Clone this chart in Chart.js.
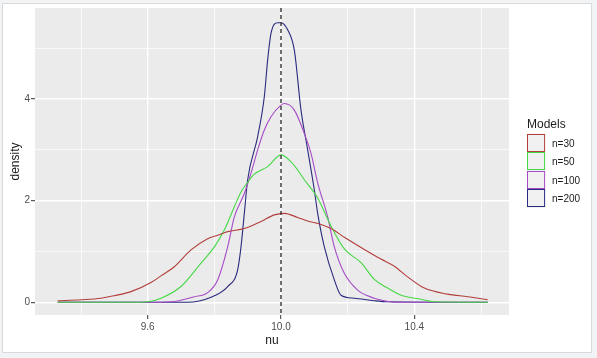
<!DOCTYPE html>
<html>
<head>
<meta charset="utf-8">
<script src="https://cdn.jsdelivr.net/npm/chart.js@4"></script>
<style>
  html, body { margin: 0; padding: 0; background: #f2f3f5; }
  #frame {
    position: absolute; left: 2px; top: 3px; width: 588px; height: 348px;
    background: #fff; border: 1px solid #d8d9db;
  }
  #wrap { position: absolute; left: 0; top: 0; width: 597px; height: 358px; }
</style>
</head>
<body>
<div id="frame"></div>
<div id="wrap"><canvas id="myChart" width="597" height="358"></canvas></div>
<script>
// ============================================
// Data
// ============================================

const seriesLabels = ['n=30', 'n=50', 'n=100', 'n=200'];
const seriesColors = ['#b23f3c', '#45d845', '#a54bc6', '#2a2a7e'];

const nu30 = [9.33, 9.40, 9.46, 9.50, 9.55, 9.61, 9.64, 9.68, 9.73, 9.78, 9.81, 9.84, 9.89, 9.94, 9.98, 10.01, 10.05, 10.08, 10.12, 10.15, 10.19, 10.25, 10.30, 10.34, 10.38, 10.43, 10.50, 10.56, 10.62];
const dens30 = [0.03, 0.05, 0.08, 0.13, 0.21, 0.39, 0.52, 0.70, 1.03, 1.25, 1.32, 1.39, 1.45, 1.59, 1.72, 1.75, 1.67, 1.60, 1.53, 1.45, 1.28, 1.04, 0.85, 0.71, 0.50, 0.28, 0.16, 0.11, 0.05];

const nu50 = [9.33, 9.55, 9.60, 9.64, 9.70, 9.76, 9.80, 9.83, 9.86, 9.88, 9.90, 9.92, 9.96, 10.00, 10.04, 10.07, 10.11, 10.15, 10.19, 10.24, 10.28, 10.32, 10.36, 10.42, 10.46, 10.62];
const dens50 = [0.00, 0.00, 0.01, 0.08, 0.31, 0.77, 1.09, 1.42, 1.88, 2.17, 2.36, 2.52, 2.67, 2.90, 2.69, 2.41, 2.05, 1.50, 1.05, 0.78, 0.45, 0.28, 0.14, 0.06, 0.01, 0.00];

const nu100 = [9.33, 9.60, 9.67, 9.74, 9.78, 9.81, 9.84, 9.86, 9.89, 9.91, 9.93, 9.95, 9.97, 10.00, 10.01, 10.04, 10.07, 10.09, 10.11, 10.14, 10.16, 10.19, 10.23, 10.28, 10.31, 10.35, 10.62];
const dens100 = [0.00, 0.00, 0.01, 0.11, 0.19, 0.44, 1.09, 1.68, 2.14, 2.54, 3.00, 3.39, 3.65, 3.88, 3.91, 3.78, 3.32, 2.93, 2.35, 1.68, 1.09, 0.57, 0.24, 0.08, 0.03, 0.00, 0.00];

const nu200 = [9.33, 9.72, 9.79, 9.84, 9.87, 9.88, 9.89, 9.90, 9.93, 9.95, 9.96, 9.97, 9.99, 10.00, 10.02, 10.04, 10.06, 10.08, 10.10, 10.11, 10.13, 10.16, 10.18, 10.22, 10.28, 10.32, 10.62];
const dens200 = [0.00, 0.00, 0.10, 0.31, 0.64, 1.09, 1.75, 2.41, 3.26, 4.05, 4.77, 5.29, 5.50, 5.50, 5.36, 4.96, 3.78, 3.00, 2.21, 1.75, 1.09, 0.44, 0.14, 0.08, 0.03, 0.01, 0.00];

const REF_NU = 10.0; // dashed reference line

const X_MIN = 9.262, X_MAX = 10.684;
const Y_MIN = -0.25, Y_MAX = 5.79;

// ============================================
// Helpers
// ============================================

function toPoints(xs, ys) {
  return xs.map((x, i) => ({ x: x, y: ys[i] }));
}

const allNu = [nu30, nu50, nu100, nu200];
const allDens = [dens30, dens50, dens100, dens200];

const datasets = seriesLabels.map((label, i) => ({
  label: label,
  data: toPoints(allNu[i], allDens[i]),
  borderColor: seriesColors[i],
  backgroundColor: seriesColors[i],
  borderWidth: 1.1,
  pointRadius: 0,
  fill: false,
  cubicInterpolationMode: 'monotone'
}));

const isMajorX = v => Math.round(v * 10) % 4 === 0;
const isMajorY = v => Math.round(v) % 2 === 0;

// ============================================
// Plugins: panel background, reference line, legend
// ============================================

const panelPlugin = {
  id: 'panel',
  beforeDraw(chart) {
    const { ctx, chartArea: a } = chart;
    ctx.save();
    ctx.fillStyle = '#ebebeb';
    ctx.fillRect(a.left, a.top, a.right - a.left, a.bottom - a.top);
    ctx.restore();
  },
  afterDatasetsDraw(chart) {
    const { ctx, chartArea: a } = chart;
    const x = chart.scales.x.getPixelForValue(REF_NU);
    ctx.save();
    ctx.strokeStyle = '#333333';
    ctx.lineWidth = 1.4;
    ctx.setLineDash([4, 3]);
    ctx.beginPath();
    ctx.moveTo(x, a.top);
    ctx.lineTo(x, a.bottom);
    ctx.stroke();
    ctx.restore();
  }
};

const legendPlugin = {
  id: 'ggLegend',
  afterDraw(chart) {
    const { ctx } = chart;
    const left = 527, top = 133.5, key = 18.6;
    const items = chart.data.datasets;
    ctx.save();
    ctx.fillStyle = '#1a1a1a';
    ctx.font = '12px "Liberation Sans", Arial, sans-serif';
    ctx.textBaseline = 'alphabetic';
    ctx.fillText('Models', left, 128);

    // key backgrounds first, then the coloured outlines
    ctx.fillStyle = '#f0f0f0';
    items.forEach((ds, i) => ctx.fillRect(left, top + i * key, key - 0.5, key));
    items.forEach((ds, i) => {
      const y = top + i * key;
      ctx.strokeStyle = ds.borderColor;
      ctx.lineWidth = 1;
      ctx.strokeRect(left + 0.5, Math.round(y) + 0.5, key - 1.5, Math.round(key) - 2);
    });

    ctx.fillStyle = '#1a1a1a';
    ctx.font = '10px "Liberation Sans", Arial, sans-serif';
    ctx.textBaseline = 'middle';
    items.forEach((ds, i) => {
      ctx.fillText(ds.label, left + 25, top + i * key + key / 2 + 1);
    });
    ctx.restore();
  }
};

// ============================================
// Chart
// ============================================

const tickFont = { family: '"Liberation Sans", Arial, sans-serif', size: 10 };
const titleFont = { family: '"Liberation Sans", Arial, sans-serif', size: 12 };

new Chart(document.getElementById('myChart'), {
  type: 'line',
  data: { datasets: datasets },
  plugins: [panelPlugin, legendPlugin],
  options: {
    responsive: false,
    animation: false,
    events: [],
    layout: { padding: { left: 0, top: 8, right: 88, bottom: 0 } },
    plugins: {
      legend: { display: false },
      tooltip: { enabled: false }
    },
    scales: {
      x: {
        type: 'linear',
        min: X_MIN,
        max: X_MAX,
        afterFit(scale) { scale.height = 43; },
        border: { display: false },
        grid: {
          color: '#ffffff',
          lineWidth: ctx => (isMajorX(ctx.tick.value) ? 1.4 : 0.7),
          tickColor: ctx => (isMajorX(ctx.tick.value) ? '#333333' : 'rgba(0,0,0,0)'),
          tickLength: 4,
          tickWidth: 1
        },
        ticks: {
          stepSize: 0.2,
          includeBounds: false,
          autoSkip: false,
          maxRotation: 0,
          padding: 2,
          color: '#4d4d4d',
          font: tickFont,
          callback: v => (isMajorX(v) ? v.toFixed(1) : '')
        },
        title: {
          display: true,
          text: 'nu',
          color: '#1a1a1a',
          font: titleFont,
          padding: { top: 0, bottom: 10 }
        }
      },
      y: {
        min: Y_MIN,
        max: Y_MAX,
        afterFit(scale) { scale.width = 35; },
        border: { display: false },
        grid: {
          color: '#ffffff',
          lineWidth: ctx => (isMajorY(ctx.tick.value) ? 1.4 : 0.7),
          tickColor: ctx => (isMajorY(ctx.tick.value) ? '#333333' : 'rgba(0,0,0,0)'),
          tickLength: 4,
          tickWidth: 1
        },
        ticks: {
          stepSize: 1,
          includeBounds: false,
          autoSkip: false,
          padding: 1,
          color: '#4d4d4d',
          font: tickFont,
          callback: v => (isMajorY(v) ? String(Math.round(v)) : '')
        },
        title: {
          display: true,
          text: 'density',
          color: '#1a1a1a',
          font: titleFont,
          padding: { top: 8, bottom: 0 }
        }
      }
    }
  }
});
</script>
</body>
</html>
